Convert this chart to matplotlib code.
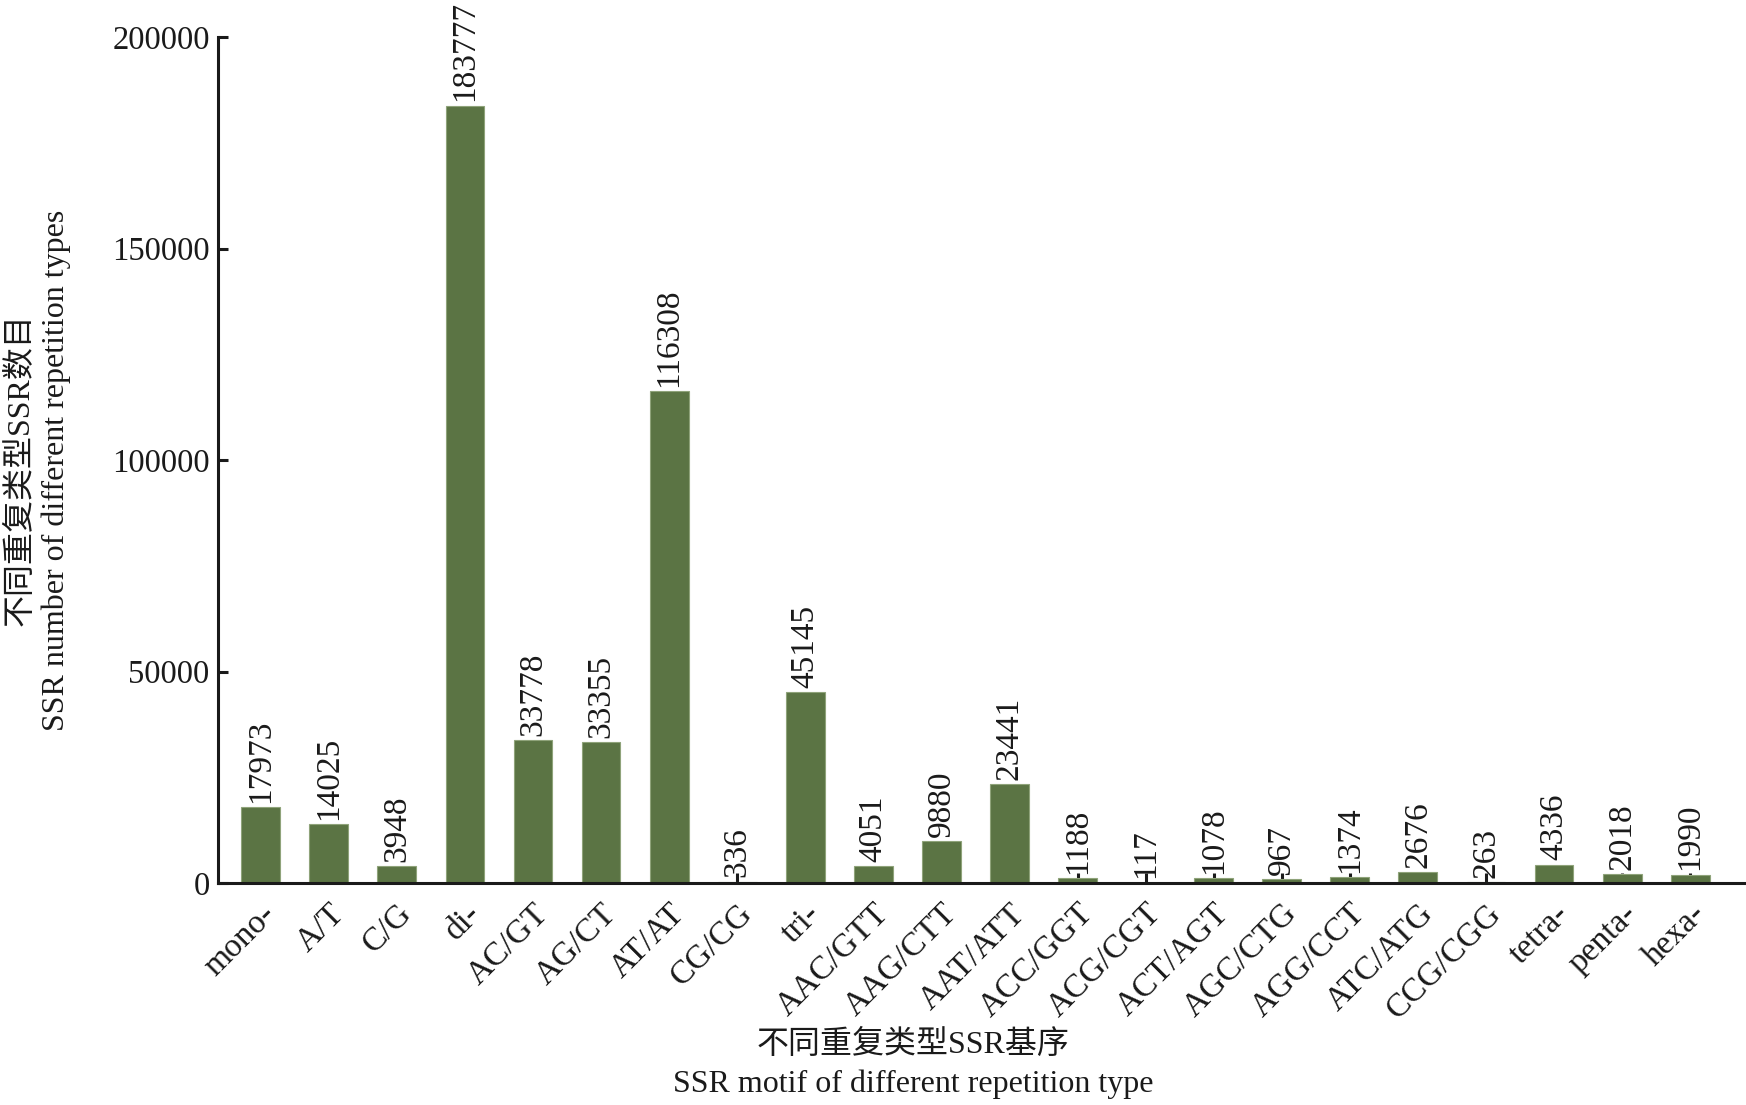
import matplotlib
matplotlib.use("Agg")
import matplotlib.pyplot as plt

plt.rcParams['font.family'] = ['Liberation Serif', 'Noto Sans CJK SC', 'DejaVu Sans']

categories = ["mono-", "A/T", "C/G", "di-", "AC/GT", "AG/CT", "AT/AT", "CG/CG",
              "tri-", "AAC/GTT", "AAG/CTT", "AAT/ATT", "ACC/GGT", "ACG/CGT",
              "ACT/AGT", "AGC/CTG", "AGG/CCT", "ATC/ATG", "CCG/CGG",
              "tetra-", "penta-", "hexa-"]
values = [17973, 14025, 3948, 183777, 33778, 33355, 116308, 336,
          45145, 4051, 9880, 23441, 1188, 117,
          1078, 967, 1374, 2676, 263,
          4336, 2018, 1990]
yticks = [0, 50000, 100000, 150000, 200000]

fig = plt.figure(figsize=(17.46, 11.05), dpi=100)
ax = fig.add_axes([0.1249, 0.2009, 0.8751, 0.7656])

x = list(range(len(categories)))
ax.bar(x, values, width=0.57, color='#5b7444', edgecolor='#8fa37a', linewidth=0.8, zorder=2)

for xi, v in zip(x, values):
    ax.annotate(str(v), (xi, v), xytext=(0, 3), textcoords='offset points',
                rotation=90, ha='center', va='bottom', fontsize=24,
                color='#1a1a1a', clip_on=False, annotation_clip=False)

ax.set_xlim(-0.626, 21.82)
ax.set_ylim(0, 200000)
ax.set_yticks(yticks)
ax.set_yticklabels([str(t) for t in yticks], fontsize=23.5, color='#1a1a1a')
ax.set_xticks(x)
ax.set_xticklabels(categories, rotation=45, ha='right', rotation_mode='anchor',
                   fontsize=24, color='#1a1a1a')

for s in ['top', 'right']:
    ax.spines[s].set_visible(False)
for s in ['left', 'bottom']:
    ax.spines[s].set_linewidth(2.2)
    ax.spines[s].set_color('#1a1a1a')
    ax.spines[s].set_zorder(3)

ax.tick_params(axis='both', direction='in', length=7, width=2.2, color='#1a1a1a')
ax.tick_params(axis='x', pad=11)
ax.tick_params(axis='y', pad=6)

fig.text(0.523, 0.0545, "不同重复类型SSR基序", ha='center', va='center', fontsize=23, color='#1a1a1a')
fig.text(0.523, 0.0185, "SSR motif of different repetition type", ha='center', va='center', fontsize=23, color='#1a1a1a')
fig.text(0.0115, 0.5747, "不同重复类型SSR数目", ha='center', va='center', rotation=90, fontsize=23, color='#1a1a1a')
fig.text(0.032, 0.5747, "SSR number of different repetition types", ha='center', va='center', rotation=90, fontsize=23, color='#1a1a1a')

fig.savefig("out.png", dpi=100)
